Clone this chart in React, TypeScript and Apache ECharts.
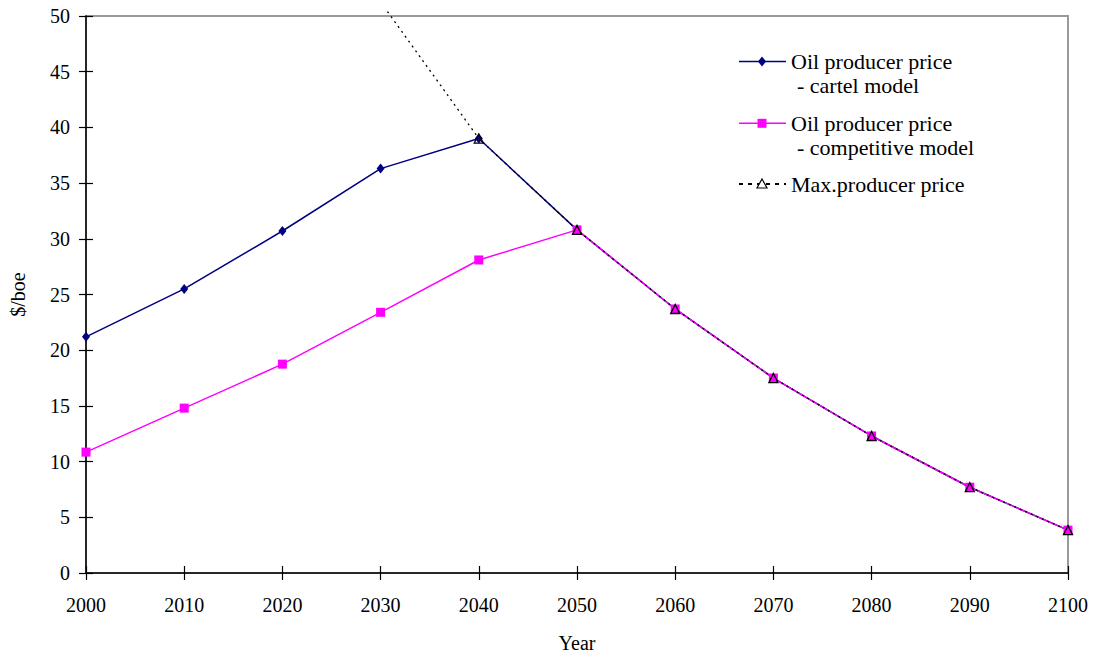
import React, { useEffect, useRef } from "react";
import * as echarts from "echarts";

const years = [2000, 2010, 2020, 2030, 2040, 2050, 2060, 2070, 2080, 2090, 2100];
const cartel = [21.2, 25.5, 30.7, 36.3, 39.0, 30.8, 23.7, 17.5, 12.3, 7.7, 3.85];
const competitive = [10.85, 14.8, 18.75, 23.4, 28.1, 30.8, 23.7, 17.5, 12.3, 7.7, 3.85];
// max producer price: visible start of the line (clipped above 50), then yearly values
const maxStart: [number, number] = [2030.7, 50.4];
const maxYears = [2040, 2050, 2060, 2070, 2080, 2090, 2100];
const maxPrice = [39.0, 30.8, 23.7, 17.5, 12.3, 7.7, 3.85];

const legendNames = [
  ["Oil producer price", "- cartel model"],
  ["Oil producer price", "- competitive model"],
  ["Max.producer price"],
];

const FONT = "Liberation Serif";
const FS = 20;
const NAVY = "#000080";
const PINK = "#FF00FF";

export default function App() {
  const ref = useRef<HTMLDivElement>(null);
  useEffect(() => {
    if (!ref.current) return;
    const chart = echarts.init(ref.current, undefined, { renderer: "svg" });
    const textStyle = { fontFamily: FONT, fontSize: FS, color: "#000" };
    const baseX = {
      type: "value" as const,
      min: 2000,
      max: 2100,
      interval: 10,
      position: "bottom" as const,
      splitLine: { show: false },
    };
    const baseY = {
      type: "value" as const,
      min: 0,
      max: 50,
      interval: 5,
      position: "left" as const,
      splitLine: { show: false },
    };
    const lx = 739, rx = 786, mx = 762, tx = 791;
    const rows = [61.5, 123.3, 184];
    const LFS = 22;
    const tStyle = (text: string) => ({ text, fontFamily: FONT, fontSize: LFS, fill: "#000", verticalAlign: "middle" });
    const graphic: any[] = [];
    // legend row 1
    graphic.push({ type: "line", shape: { x1: lx, y1: rows[0], x2: rx, y2: rows[0] }, style: { stroke: NAVY, lineWidth: 1.5 } });
    graphic.push({ type: "polygon", shape: { points: [[mx, rows[0] - 5], [mx + 4, rows[0]], [mx, rows[0] + 5], [mx - 4, rows[0]]] }, style: { fill: NAVY } });
    graphic.push({ type: "text", x: tx, y: rows[0], style: tStyle(legendNames[0][0]) });
    graphic.push({ type: "text", x: tx + 6, y: rows[0] + 24, style: tStyle(legendNames[0][1]) });
    // legend row 2
    graphic.push({ type: "line", shape: { x1: lx, y1: rows[1], x2: rx, y2: rows[1] }, style: { stroke: PINK, lineWidth: 1.5 } });
    graphic.push({ type: "rect", shape: { x: mx - 4.5, y: rows[1] - 4.5, width: 9, height: 9 }, style: { fill: PINK } });
    graphic.push({ type: "text", x: tx, y: rows[1], style: tStyle(legendNames[1][0]) });
    graphic.push({ type: "text", x: tx + 6, y: rows[1] + 24, style: tStyle(legendNames[1][1]) });
    // legend row 3
    graphic.push({ type: "line", shape: { x1: lx, y1: rows[2], x2: rx, y2: rows[2] }, style: { stroke: "#000", lineWidth: 2, lineDash: [4, 5] } });
    graphic.push({ type: "polygon", shape: { points: [[mx, rows[2] - 5], [mx + 5, rows[2] + 4], [mx - 5, rows[2] + 4]] }, style: { fill: "#fff", stroke: "#000", lineWidth: 1.2 } });
    graphic.push({ type: "text", x: tx, y: rows[2], style: tStyle(legendNames[2][0]) });

    const maxData: any[] = [
      { value: maxStart, symbol: "none" },
      ...maxYears.map((y, i) => [y, maxPrice[i]]),
    ];

    chart.setOption({
      animation: false,
      textStyle: { fontFamily: FONT },
      grid: {
        left: 85,
        right: 29,
        top: 16,
        bottom: 86,
        show: true,
        borderColor: "#999",
        borderWidth: 2,
        backgroundColor: "transparent",
      },
      xAxis: [
        {
          ...baseX,
          name: "Year",
          nameLocation: "middle",
          nameGap: 60,
          nameTextStyle: textStyle,
          axisLine: { show: true, lineStyle: { color: "#000", width: 1.5 } },
          axisTick: { show: true, inside: false, length: 7, lineStyle: { color: "#000", width: 1.2 } },
          axisLabel: { ...textStyle, margin: 22, formatter: (v: number) => String(v) },
        },
        {
          ...baseX,
          axisLine: { show: false },
          axisTick: { show: true, inside: true, length: 7, lineStyle: { color: "#000", width: 1.2 } },
          axisLabel: { show: false },
        },
      ],
      yAxis: [
        {
          ...baseY,
          name: "$/boe",
          nameLocation: "middle",
          nameGap: 58,
          nameRotate: 90,
          nameTextStyle: textStyle,
          axisLine: { show: true, lineStyle: { color: "#000", width: 1.5 } },
          axisTick: { show: true, inside: false, length: 7, lineStyle: { color: "#000", width: 1.2 } },
          axisLabel: { ...textStyle, margin: 16 },
        },
        {
          ...baseY,
          axisLine: { show: false },
          axisTick: { show: true, inside: true, length: 7, lineStyle: { color: "#000", width: 1.2 } },
          axisLabel: { show: false },
        },
      ],
      series: [
        {
          name: "cartel",
          type: "line",
          data: years.map((y, i) => [y, cartel[i]]),
          symbol: "diamond",
          symbolSize: [8, 10],
          showAllSymbol: true,
          itemStyle: { color: NAVY },
          lineStyle: { color: NAVY, width: 1.5 },
        },
        {
          name: "competitive",
          type: "line",
          data: years.map((y, i) => [y, competitive[i]]),
          symbol: "rect",
          symbolSize: 9,
          showAllSymbol: true,
          itemStyle: { color: PINK },
          lineStyle: { color: PINK, width: 1.5 },
        },
        {
          name: "max",
          type: "line",
          clip: false,
          data: maxData,
          symbol: "triangle",
          symbolSize: [9, 9],
          showAllSymbol: true,
          itemStyle: { color: "transparent", borderColor: "#000", borderWidth: 1.3 },
          lineStyle: { color: "#000", width: 1.3, type: [2, 4] },
        },
      ],
      graphic,
    });
    return () => chart.dispose();
  }, []);
  return (
    <div
      ref={ref}
      style={{ position: "fixed", left: 0, top: 0, width: 1097, height: 659, background: "#fff" }}
    />
  );
}
